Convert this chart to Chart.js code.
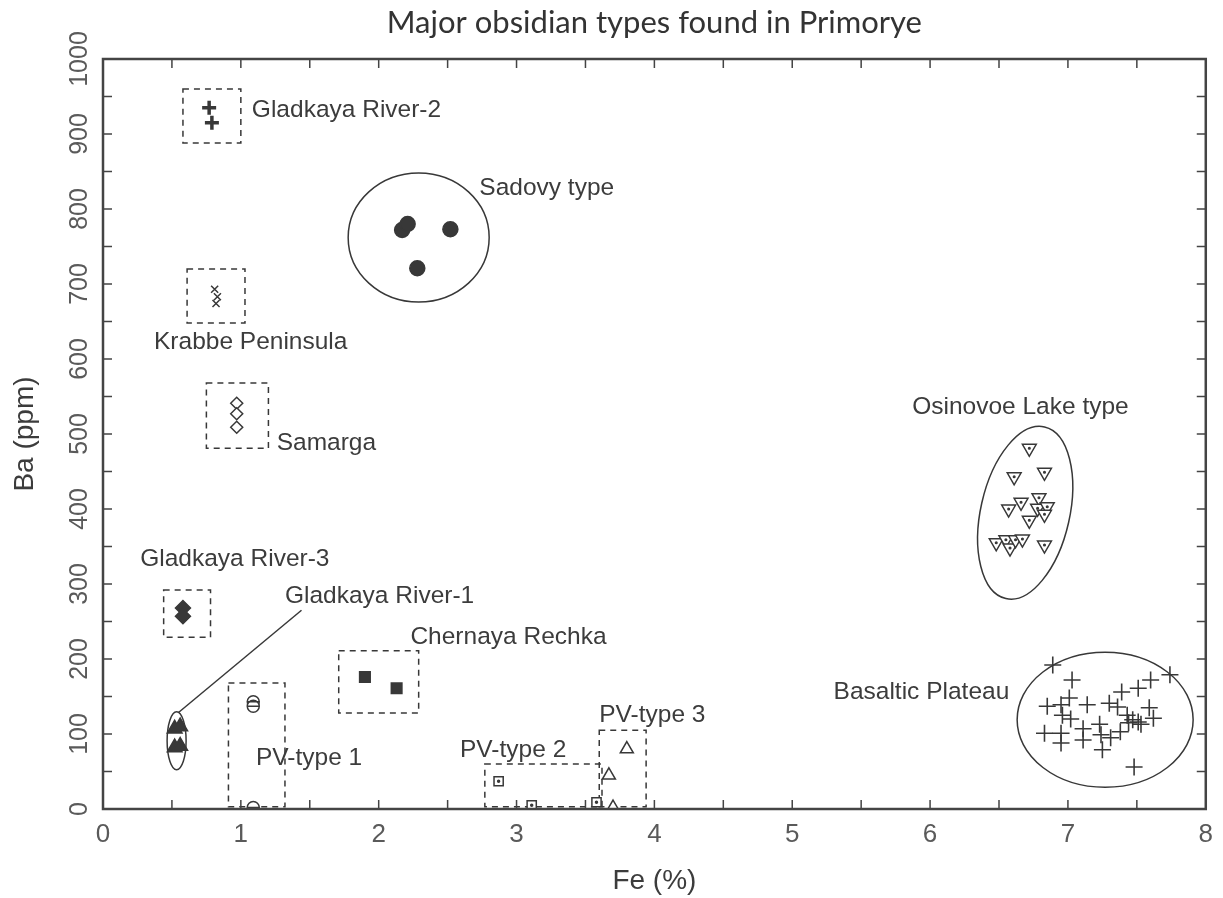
<!DOCTYPE html>
<html>
<head>
<meta charset="utf-8">
<title>Major obsidian types found in Primorye</title>
<script src="https://cdn.jsdelivr.net/npm/chart.js@4.4.1/dist/chart.umd.min.js"></script>
<style>
  html, body { margin: 0; padding: 0; background: #fff; }
  #wrap { width: 1223px; height: 898px; }
</style>
</head>
<body>
<div id="wrap"><canvas id="chart" width="1223" height="898"></canvas></div>
<script>
/* ================================
   Data (Fe %, Ba ppm)
   ================================ */
const gladkaya2Fe = [0.77, 0.79];
const gladkaya2Ba = [935, 915];

const sadovyFe = [2.17, 2.21, 2.52, 2.28];
const sadovyBa = [772, 780, 773, 721];

const krabbeFe = [0.81, 0.83, 0.82];
const krabbeBa = [693, 683, 674];

const samargaFe = [0.97, 0.97, 0.97];
const samargaBa = [541, 527, 509];

const gladkaya3Fe = [0.58, 0.58];
const gladkaya3Ba = [268, 257];

const gladkaya1Fe = [0.52, 0.56, 0.52, 0.56];
const gladkaya1Ba = [107, 110, 82, 84];

const pv1Fe = [1.09, 1.09, 1.09];
const pv1Ba = [143, 137, 2];

const chernayaFe = [1.90, 2.13];
const chernayaBa = [176, 161];

const pv2Fe = [2.87, 3.11, 3.58];
const pv2Ba = [37, 5, 9];

const pv3Fe = [3.80, 3.67, 3.70];
const pv3Ba = [80, 45, 2];

const osinovoeFe = [6.72, 6.61, 6.83, 6.66, 6.79, 6.57, 6.78, 6.85, 6.83, 6.72, 6.48, 6.55, 6.58, 6.62, 6.67, 6.83];
const osinovoeBa = [481, 443, 449, 409, 415, 400, 401, 403, 393, 385, 355, 359, 348, 359, 360, 352];

const basalticFe = [6.89, 7.03, 6.85, 6.95, 7.01, 7.14, 6.96, 7.02, 6.83, 6.95, 6.95, 7.11, 7.11, 7.23, 7.24, 7.25,
                    7.30, 7.36, 7.31, 7.38, 7.39, 7.51, 7.60, 7.74, 7.43, 7.47, 7.44, 7.51, 7.59, 7.62, 7.48, 7.53];
const basalticBa = [192, 172, 137, 139, 148, 139, 125, 120, 101, 101, 88, 107, 92, 113, 99, 79,
                    141, 136, 95, 103, 156, 161, 172, 179, 125, 119, 115, 116, 135, 121, 56, 113];

const feTicks = [0, 1, 2, 3, 4, 5, 6, 7, 8];
const baTicks = [0, 100, 200, 300, 400, 500, 600, 700, 800, 900, 1000];

/* ================================
   Group outlines and names (data units)
   ================================ */
const boxes = [
  { fe: [0.58, 1.00], ba: [888, 960] },
  { fe: [0.61, 1.03], ba: [648, 720] },
  { fe: [0.75, 1.20], ba: [481, 568] },
  { fe: [0.44, 0.78], ba: [229, 292] },
  { fe: [0.91, 1.32], ba: [3, 168] },
  { fe: [1.71, 2.29], ba: [128, 211] },
  { fe: [2.77, 3.62], ba: [3, 60] },
  { fe: [3.60, 3.94], ba: [3, 105] }
];

const ellipses = [
  { fe: 2.29, ba: 762, rx: 70.5, ry: 64.5, rot: 0 },
  { fe: 0.534, ba: 91, rx: 9.5, ry: 29, rot: 0 },
  { fe: 6.69, ba: 395, rx: 44.5, ry: 88, rot: 12.7 },
  { fe: 7.27, ba: 119, rx: 88, ry: 67.5, rot: 0 }
];

const leader = { fe: [0.55, 1.44], ba: [129, 265] };

const groupLabels = [
  { text: "Gladkaya River-2", fe: 1.08, ba: 932 },
  { text: "Sadovy type", fe: 2.73, ba: 828 },
  { text: "Krabbe Peninsula", fe: 0.37, ba: 623 },
  { text: "Samarga", fe: 1.26, ba: 488 },
  { text: "Gladkaya River-3", fe: 0.27, ba: 333 },
  { text: "Gladkaya River-1", fe: 1.32, ba: 284 },
  { text: "Chernaya Rechka", fe: 2.23, ba: 229 },
  { text: "PV-type 1", fe: 1.11, ba: 68 },
  { text: "PV-type 2", fe: 2.59, ba: 79 },
  { text: "PV-type 3", fe: 3.60, ba: 125 },
  { text: "Osinovoe Lake type", fe: 5.87, ba: 536 },
  { text: "Basaltic Plateau", fe: 5.30, ba: 156 }
];

const INK = "#383838";
const TEXT = "#3c3c3c";
const TICK_TEXT = "#5a5a5a";

function pts(fe, ba) {
  return fe.map((v, i) => ({ x: v, y: ba[i] }));
}

function marker(label, fe, ba, style) {
  return Object.assign({
    label,
    data: pts(fe, ba),
    showLine: false,
    clip: 0,
    borderColor: INK,
    backgroundColor: INK,
    pointBorderWidth: 1.5,
    pointRotation: 0
  }, style);
}

const datasets = [
  marker("Gladkaya River-2", gladkaya2Fe, gladkaya2Ba, { pointStyle: "cross", pointRadius: 7, pointBorderWidth: 3.5 }),
  marker("Sadovy type", sadovyFe, sadovyBa, { pointStyle: "circle", pointRadius: 7.5 }),
  marker("Krabbe Peninsula", krabbeFe, krabbeBa, { pointStyle: "crossRot", pointRadius: 5 }),
  marker("Samarga", samargaFe, samargaBa, { pointStyle: "rectRot", pointRadius: 6, backgroundColor: "#fff" }),
  marker("Gladkaya River-3", gladkaya3Fe, gladkaya3Ba, { pointStyle: "rectRot", pointRadius: 7.5 }),
  marker("Gladkaya River-1", gladkaya1Fe, gladkaya1Ba, { pointStyle: "triangle", pointRadius: 8.5 }),
  marker("PV-type 1", pv1Fe, pv1Ba, { pointStyle: "circle", pointRadius: 6, backgroundColor: "#fff" }),
  marker("PV-type 1 bar", pv1Fe, pv1Ba, { pointStyle: "line", pointRadius: 6, order: -1 }),
  marker("Chernaya Rechka", chernayaFe, chernayaBa, { pointStyle: "rect", pointRadius: 7.5 }),
  marker("PV-type 2", pv2Fe, pv2Ba, { pointStyle: "rect", pointRadius: 6.5, backgroundColor: "#fff" }),
  marker("PV-type 2 dot", pv2Fe, pv2Ba, { pointStyle: "circle", pointRadius: 1, order: -1 }),
  marker("PV-type 3", pv3Fe, pv3Ba, { pointStyle: "triangle", pointRadius: 7.5, backgroundColor: "#fff" }),
  marker("Osinovoe Lake type", osinovoeFe, osinovoeBa, { pointStyle: "triangle", pointRadius: 8, pointRotation: 180, backgroundColor: "#fff" }),
  marker("Osinovoe dot", osinovoeFe, osinovoeBa, { pointStyle: "circle", pointRadius: 0.8, order: -1 }),
  marker("Basaltic Plateau", basalticFe, basalticBa, { pointStyle: "cross", pointRadius: 8.5, pointBorderWidth: 1.6 })
];

/* ================================
   Outlines, labels, frame with inward ticks
   ================================ */
const overlayPlugin = {
  id: "overlay",
  beforeDatasetsDraw(chart) {
    const { ctx, scales: { x, y } } = chart;
    ctx.save();
    ctx.strokeStyle = INK;
    ctx.lineWidth = 1.5;

    ctx.setLineDash([6, 5]);
    boxes.forEach(b => {
      const x0 = x.getPixelForValue(b.fe[0]);
      const x1 = x.getPixelForValue(b.fe[1]);
      const y0 = y.getPixelForValue(b.ba[1]);
      const y1 = y.getPixelForValue(b.ba[0]);
      ctx.strokeRect(x0, y0, x1 - x0, y1 - y0);
    });
    ctx.setLineDash([]);

    ellipses.forEach(e => {
      ctx.beginPath();
      ctx.ellipse(x.getPixelForValue(e.fe), y.getPixelForValue(e.ba), e.rx, e.ry, e.rot * Math.PI / 180, 0, Math.PI * 2);
      ctx.stroke();
    });

    ctx.beginPath();
    ctx.moveTo(x.getPixelForValue(leader.fe[0]), y.getPixelForValue(leader.ba[0]));
    ctx.lineTo(x.getPixelForValue(leader.fe[1]), y.getPixelForValue(leader.ba[1]));
    ctx.stroke();

    ctx.fillStyle = TEXT;
    ctx.font = "24.5px 'Liberation Sans', Arial, sans-serif";
    ctx.textAlign = "left";
    ctx.textBaseline = "middle";
    groupLabels.forEach(l => {
      ctx.fillText(l.text, x.getPixelForValue(l.fe), y.getPixelForValue(l.ba));
    });
    ctx.restore();
  },
  afterDraw(chart) {
    const { ctx, chartArea: a, scales: { x, y } } = chart;
    ctx.save();
    ctx.strokeStyle = "#444";
    ctx.lineWidth = 1.5;
    const len = 9;
    ctx.beginPath();
    x.ticks.forEach(t => {
      const px = x.getPixelForValue(t.value);
      ctx.moveTo(px, a.bottom); ctx.lineTo(px, a.bottom - len);
      ctx.moveTo(px, a.top); ctx.lineTo(px, a.top + len);
    });
    y.ticks.forEach(t => {
      const py = y.getPixelForValue(t.value);
      ctx.moveTo(a.left, py); ctx.lineTo(a.left + len, py);
      ctx.moveTo(a.right, py); ctx.lineTo(a.right - len, py);
    });
    ctx.stroke();

    ctx.lineWidth = 2.5;
    ctx.strokeRect(a.left, a.top, a.right - a.left, a.bottom - a.top);

    // rotated y tick labels
    ctx.fillStyle = TICK_TEXT;
    ctx.font = "25px 'Liberation Sans', Arial, sans-serif";
    ctx.textAlign = "center";
    ctx.textBaseline = "middle";
    baTicks.forEach(v => {
      ctx.save();
      ctx.translate(80, y.getPixelForValue(v));
      ctx.rotate(-Math.PI / 2);
      ctx.fillText(String(v), 0, 0);
      ctx.restore();
    });
    ctx.restore();
  }
};

new Chart(document.getElementById("chart"), {
  type: "scatter",
  data: { datasets },
  options: {
    responsive: false,
    animation: false,
    layout: { padding: { left: 0, right: 12, top: 0, bottom: 0 } },
    plugins: {
      legend: { display: false },
      tooltip: { enabled: false },
      title: {
        display: true,
        fullSize: false,
        text: "Major obsidian types found in Primorye",
        color: "#333",
        font: { family: "Lato, 'Open Sans', sans-serif", size: 31, weight: "normal", lineHeight: 1.2 },
        padding: { top: 4, bottom: 17.8 }
      }
    },
    scales: {
      x: {
        type: "linear",
        min: 0, max: 8,
        grid: { display: false, drawTicks: false },
        border: { display: false },
        ticks: {
          stepSize: 0.5,
          autoSkip: false,
          maxRotation: 0,
          padding: 10,
          color: TICK_TEXT,
          font: { family: "'Liberation Sans', Arial, sans-serif", size: 26 },
          callback: v => (feTicks.includes(v) ? String(v) : "")
        },
        title: {
          display: true,
          text: "Fe (%)",
          color: TEXT,
          font: { family: "'Liberation Sans', Arial, sans-serif", size: 28 },
          padding: { top: 0, bottom: 0 }
        },
        afterFit(scale) { scale.height = 89; }
      },
      y: {
        type: "linear",
        min: 0, max: 1000,
        grid: { display: false, drawTicks: false },
        border: { display: false },
        ticks: { stepSize: 50, display: false },
        title: {
          display: true,
          text: "Ba (ppm)",
          color: TEXT,
          font: { family: "'Liberation Sans', Arial, sans-serif", size: 28 },
          padding: { top: 8, bottom: 0 }
        },
        afterFit(scale) { scale.width = 103; }
      }
    }
  },
  plugins: [overlayPlugin]
});
</script>
</body>
</html>
